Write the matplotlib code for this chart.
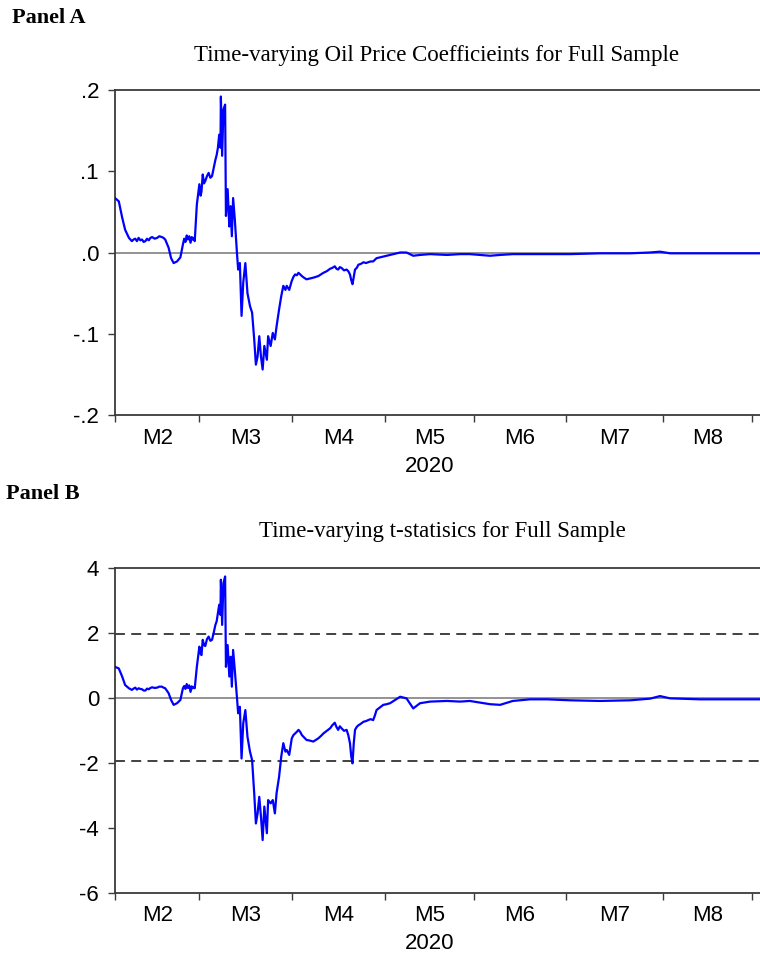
import matplotlib
matplotlib.use('Agg')
import matplotlib.pyplot as plt
import pandas as pd

# x = weekday observation number, 0 = 2020-02-03
obs = [0.0, 0.9, 1.7, 2.4, 3.3,
       4.0, 4.4, 4.8, 5.2, 5.6, 6.0, 6.4, 6.8, 7.2, 7.6, 8.0, 8.4, 8.8, 9.4, 10.0,
       10.5, 11.1, 11.5, 11.9,
       12.7, 13.3, 13.9, 14.7, 15.5,
       16.1, 16.4, 16.7, 17.0, 17.3, 17.6, 17.9, 18.2, 18.4, 18.7, 18.9,
       19.4,
       20.0, 20.3, 20.5, 20.8, 21.1, 21.4, 21.8, 22.2, 22.6, 23.0, 23.4, 23.8, 24.1, 24.4,
       24.7, 25.0, 25.1, 25.4, 25.7, 26.1, 26.3, 26.7, 27.1, 27.4, 27.7, 28.0, 28.4,
       28.9, 29.2, 29.6, 30.0, 30.4, 30.9, 31.4, 32.0, 32.5, 33.0, 33.4, 33.8, 34.2,
       34.6, 35.0, 35.4, 36.0, 36.3, 36.9, 37.4, 37.9, 38.3, 38.9, 39.4, 39.9, 40.4,
       40.7, 41.3,
       41.9, 42.3, 42.7, 43.1, 43.5, 43.9, 44.3, 44.8, 45.4, 46.2, 47.0, 47.6, 48.2,
       48.8, 49.4, 50.2, 51.0, 51.5, 52.1, 52.5, 52.9, 53.3, 53.7, 54.3, 54.9, 55.3,
       55.7, 56.0, 56.3, 56.6, 56.9, 57.3, 57.7, 58.3, 58.9, 59.5, 60.0, 60.6, 61.2,
       61.6, 62.0, 62.8, 63.6, 64.4, 65.2,
       67.6, 69.1, 70.7, 72.3, 74.7, 78.7, 81.8, 84.1, 88.9, 91.3, 94.3, 98.4, 102.4,
       107.9, 115.0, 122.1, 126.8, 129.2, 131.6, 138.7, 145.7, 152.9]

coef = [0.067, 0.063, 0.043, 0.028, 0.018,
        0.014, 0.016, 0.017, 0.014, 0.018, 0.015, 0.016, 0.013, 0.014, 0.017, 0.015,
        0.018, 0.019, 0.017, 0.018, 0.020, 0.019, 0.018, 0.016,
        0.006, -0.007, -0.013, -0.011, -0.006,
        0.010, 0.017, 0.013, 0.021, 0.016, 0.020, 0.012, 0.019, 0.016, 0.018, 0.014,
        0.059,
        0.084, 0.070, 0.075, 0.096, 0.085, 0.088, 0.094, 0.098, 0.092, 0.094, 0.104,
        0.114, 0.120, 0.129,
        0.145, 0.129, 0.192, 0.119, 0.176, 0.182, 0.045, 0.078, 0.032, 0.057, 0.020,
        0.067, 0.041, 0.000, -0.021, -0.013, -0.078, -0.037, -0.013, -0.050, -0.066,
        -0.074, -0.107, -0.138, -0.128, -0.103, -0.128, -0.144, -0.115, -0.132, -0.103,
        -0.115, -0.099, -0.107, -0.091, -0.070, -0.054, -0.041, -0.046, -0.041, -0.046,
        -0.035, -0.030, -0.027, -0.028, -0.025, -0.027, -0.029, -0.031, -0.033, -0.032,
        -0.031, -0.030, -0.029, -0.027, -0.025, -0.023, -0.020, -0.019, -0.017, -0.020,
        -0.021, -0.018, -0.019, -0.022, -0.021, -0.023, -0.027, -0.034, -0.039, -0.030,
        -0.021, -0.019, -0.015, -0.014, -0.012, -0.013, -0.012, -0.011, -0.011, -0.009,
        -0.007, -0.006, -0.005, -0.004, -0.003,
        0.000, 0.000, -0.004, -0.003, -0.002, -0.003, -0.002, -0.002, -0.004, -0.003,
        -0.002, -0.002, -0.002, -0.002, -0.001, -0.001, 0.000, 0.001, -0.001, -0.001,
        -0.001, -0.001]

tstat = [0.95, 0.90, 0.65, 0.39, 0.29,
         0.24, 0.28, 0.31, 0.25, 0.29, 0.27, 0.26, 0.22, 0.22, 0.28, 0.26, 0.30, 0.32,
         0.30, 0.31, 0.34, 0.34, 0.31, 0.29,
         0.14, -0.07, -0.22, -0.17, -0.07,
         0.29, 0.36, 0.27, 0.42, 0.30, 0.38, 0.18, 0.35, 0.29, 0.33, 0.29,
         0.95,
         1.57, 1.35, 1.31, 1.78, 1.62, 1.59, 1.80, 1.88, 1.75, 1.78, 2.00, 2.24, 2.35, 2.60,
         2.86, 2.55, 3.63, 2.24, 3.52, 3.73, 0.95, 1.62, 0.65, 1.26, 0.34, 1.47, 0.85,
         0.03, -0.48, -0.28, -1.87, -0.79, -0.38, -1.20, -1.66, -1.92, -2.94, -3.87,
         -3.56, -3.05, -3.66, -4.38, -3.35, -4.17, -3.15, -3.25, -3.15, -3.56, -2.94,
         -2.43, -1.82, -1.40, -1.66, -1.61, -1.76,
         -1.25, -1.15, -1.10, -1.05, -0.99, -1.05, -1.15, -1.22, -1.30, -1.32,
         -1.35, -1.30, -1.25, -1.18, -1.10, -1.02, -0.94, -0.85, -0.77, -0.90,
         -0.99, -0.88, -0.94, -1.02, -0.99, -1.15, -1.40, -1.80, -2.02, -1.40,
         -0.99, -0.90, -0.85, -0.80, -0.74, -0.72, -0.69, -0.66, -0.69, -0.55,
         -0.38, -0.30, -0.22, -0.20, -0.17,
         0.03, -0.02, -0.33, -0.17, -0.12, -0.10, -0.12, -0.10, -0.20, -0.22, -0.10,
         -0.05, -0.05, -0.08, -0.10, -0.08, -0.03, 0.05, -0.02, -0.05, -0.05, -0.05]

month_names = ['M2', 'M3', 'M4', 'M5', 'M6', 'M7', 'M8']
year_label = '2020'
coef_ticks = [0.2, 0.1, 0.0, -0.1, -0.2]
coef_ticklabels = ['.2', '.1', '.0', '-.1', '-.2']
t_ticks = [4, 2, 0, -2, -4, -6]
crit = 1.96

# month boundaries in weekday observations
bdays = pd.bdate_range('2020-02-03', '2020-09-04')
bounds = [0] + [i for i in range(1, len(bdays)) if bdays[i].month != bdays[i - 1].month]
mids = [(bounds[i] + bounds[i + 1]) / 2 for i in range(len(month_names))]

sans = 'Liberation Sans'
serif = 'Liberation Serif'
spine_col = '#3a3a3a'

fig = plt.figure(figsize=(7.6, 9.55), dpi=100)
axA = fig.add_axes([115 / 760, 1 - 415 / 955, 645 / 760, 325 / 955])
axB = fig.add_axes([115 / 760, 1 - 892.7 / 955, 645 / 760, 325 / 955])


def style(ax, ylim, yticks, ylabels):
    ax.set_xlim(0, 152.9)
    ax.set_ylim(*ylim)
    ax.set_yticks(yticks)
    ax.set_yticklabels(ylabels, fontfamily=sans, fontsize=16)
    ax.set_xticks(bounds)
    ax.set_xticklabels([])
    ax.set_xticks(mids, minor=True)
    ax.set_xticklabels(month_names, minor=True, fontfamily=sans, fontsize=16)
    ax.tick_params(axis='x', which='minor', length=0, pad=9)
    ax.tick_params(axis='x', which='major', length=5, width=1, color=spine_col)
    ax.tick_params(axis='y', length=5, width=1, color=spine_col, pad=6.5)
    ax.spines['right'].set_visible(False)
    for s in ['left', 'top', 'bottom']:
        ax.spines[s].set_color(spine_col)
        ax.spines[s].set_linewidth(1.3)
    ax.text(mids[3], -0.157, year_label, transform=ax.get_xaxis_transform(),
            ha='center', va='center', fontfamily=sans, fontsize=16)


axA.axhline(0, color='#808080', lw=1.2, zorder=1)
axA.plot(obs, coef, color='#0000ff', lw=1.6, zorder=3)
style(axA, (-0.2, 0.2), coef_ticks, coef_ticklabels)

axB.axhline(0, color='#808080', lw=1.2, zorder=1)
axB.axhline(crit, color='#333333', lw=1.3, ls=(0, (5.5, 3.5)), zorder=2)
axB.axhline(-crit, color='#333333', lw=1.3, ls=(0, (5.5, 3.5)), zorder=2)
axB.plot(obs, tstat, color='#0000ff', lw=1.6, zorder=3)
style(axB, (-6, 4), t_ticks, [str(v) for v in t_ticks])

fig.text(12 / 760, 1 - 18 / 955, 'Panel A', fontfamily=serif, fontweight='bold',
         fontsize=16, ha='left', va='center')
fig.text(437 / 760, 1 - 55 / 955, 'Time-varying Oil Price Coefficieints for Full Sample',
         fontfamily=serif, fontsize=16.5, ha='center', va='center')
fig.text(6 / 760, 1 - 494 / 955, 'Panel B', fontfamily=serif, fontweight='bold',
         fontsize=16, ha='left', va='center')
fig.text(442 / 760, 1 - 532 / 955, 'Time-varying t-statisics for Full Sample',
         fontfamily=serif, fontsize=16.5, ha='center', va='center')

fig.savefig('out.png', dpi=100)
